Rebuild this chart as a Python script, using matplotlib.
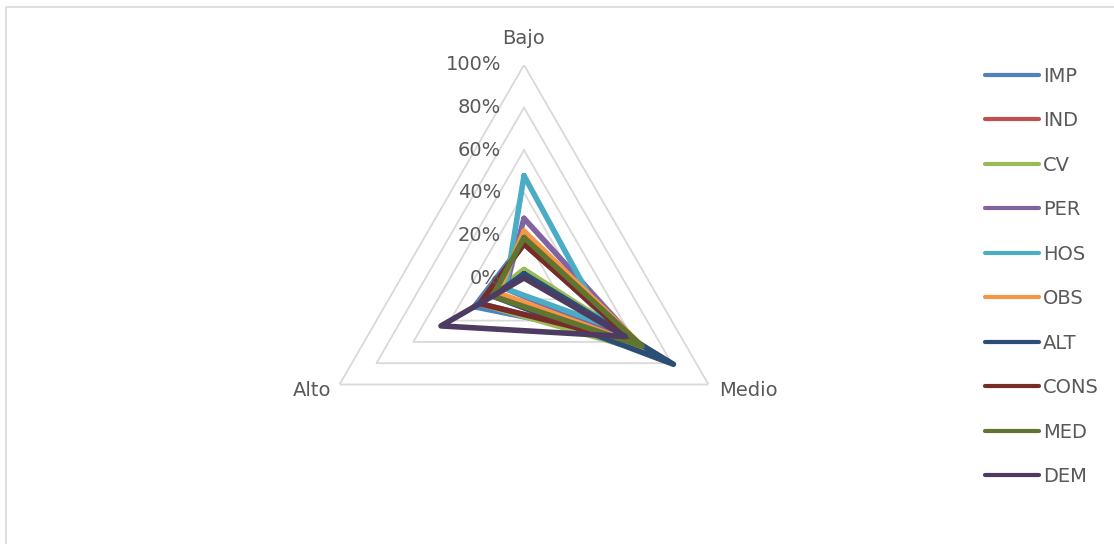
import numpy as np
import matplotlib
matplotlib.use("Agg")
import matplotlib.pyplot as plt
from matplotlib.lines import Line2D
from matplotlib.patches import Rectangle

categories = ["Bajo", "Medio", "Alto"]
series = ["IMP", "IND", "CV", "PER", "HOS", "OBS", "ALT", "CONS", "MED", "DEM"]
colors = ["#4F81BD", "#C0504D", "#9BBB59", "#8064A2", "#4BACC6",
          "#F79646", "#2C4D75", "#772C2A", "#5F7530", "#4D3B62"]
bajo = [0.17, 0.16, 0.04, 0.28, 0.48, 0.22, 0.02, 0.16, 0.19, 0.00]
medio = [0.56, 0.60, 0.72, 0.62, 0.44, 0.64, 0.81, 0.60, 0.64, 0.55]
alto = [0.27, 0.24, 0.24, 0.10, 0.10, 0.14, 0.17, 0.24, 0.17, 0.45]
r_ticks = [0.0, 0.2, 0.4, 0.6, 0.8, 1.0]
r_labels = ["0%", "20%", "40%", "60%", "80%", "100%"]

W, H = 1114, 544
fig = plt.figure(figsize=(W / 100, H / 100), dpi=100)
txt = "#595959"
grid = "#D9D9D9"
fs = 14

# outer chart border (only left/top visible in the crop)
fig.patches.append(Rectangle((6 / W, -0.1), 1.2, 1 - 7 / H + 0.1, transform=fig.transFigure,
                             fill=False, edgecolor=grid, lw=1.2))

cx, cy, R = 524, 278, 213
ax = fig.add_axes([(cx - R) / W, (H - cy - R) / H, 2 * R / W, 2 * R / H], projection="polar")
ax.set_theta_zero_location("N")
ax.set_theta_direction(-1)
ax.set_ylim(0, 1)
ax.axis("off")

theta = np.deg2rad([0, 120, 240, 0])

# triangular gridlines
for r in r_ticks[1:]:
    ax.plot(theta, [r] * 4, color=grid, lw=1.3, zorder=1)

# radial tick labels
for r, lab in zip(r_ticks, r_labels):
    x_disp, y_disp = ax.transData.transform((0, r))
    fig.text((x_disp - 23) / W, y_disp / H, lab, ha="right", va="center",
             fontsize=fs, color=txt)

# category labels
fig.text(cx / W, 1 - 38 / H, categories[0], ha="center", va="center", fontsize=fs, color=txt)
fig.text(719 / W, 1 - 390 / H, categories[1], ha="left", va="center", fontsize=fs, color=txt)
fig.text(331 / W, 1 - 390 / H, categories[2], ha="right", va="center", fontsize=fs, color=txt)

for name, c, b, m, a in zip(series, colors, bajo, medio, alto):
    ax.plot(theta, [b, m, a, b], color=c, lw=4.0, solid_joinstyle="round",
            solid_capstyle="round", zorder=3)

handles = [Line2D([0], [0], color=c, lw=3, solid_capstyle="round") for c in colors]
leg = fig.legend(handles, series, loc="upper left", bbox_to_anchor=(975 / W, 1 - 57 / H),
                 frameon=False, fontsize=fs, handlelength=2.8, handletextpad=0.2,
                 labelspacing=1.31, labelcolor=txt, borderpad=0)

fig.savefig("out.png", dpi=100)
